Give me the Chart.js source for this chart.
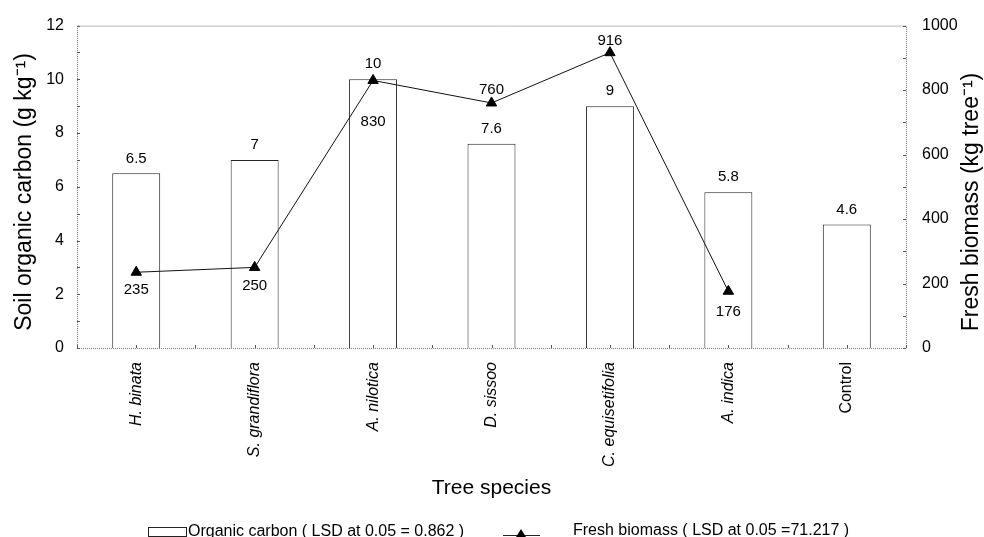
<!DOCTYPE html>
<html>
<head>
<meta charset="utf-8">
<script src="https://cdn.jsdelivr.net/npm/chart.js@4.4.1/dist/chart.umd.min.js"></script>
<style>
  html, body { margin: 0; padding: 0; background: #fff; }
  #wrap { width: 984px; height: 537px; }
</style>
</head>
<body>
<div id="wrap"><canvas id="chart1"></canvas></div>
<script>
const species = ['H. binata', 'S. grandiflora', 'A. nilotica', 'D. sissoo', 'C. equisetifolia', 'A. indica', 'Control'];
const organicCarbon = [6.5, 7, 10, 7.6, 9, 5.8, 4.6];
const freshBiomass = [235, 250, 830, 760, 916, 176, null];
const carbonTicks = [0, 2, 4, 6, 8, 10, 12];
const biomassTicks = [0, 200, 400, 600, 800, 1000];

// where each biomass label sits relative to its point (px, + is below)
const biomassLabelShift = [18, 18, 41, -13, -12, 21, 0];

const FONT = '"Liberation Sans", Arial, sans-serif';
const ctx = document.getElementById('chart1');

function sideTitle(c, text, x, y) {
  c.save();
  c.translate(x, y);
  c.rotate(-Math.PI / 2);
  c.font = '23px ' + FONT;
  c.textAlign = 'center';
  c.textBaseline = 'middle';
  c.fillStyle = '#000';
  c.fillText(text, 0, 0);
  c.restore();
}

const extras = {
  id: 'extras',
  afterDatasetsDraw(chart) {
    const c = chart.ctx;
    const area = chart.chartArea;
    const x = chart.scales.x, y = chart.scales.y, y1 = chart.scales.y1;
    c.save();

    // dotted frame
    c.strokeStyle = '#777';
    c.lineWidth = 1;
    c.setLineDash([1, 1]);
    c.strokeRect(area.left + 0.5, area.top + 0.5, area.right - area.left, area.bottom - area.top);
    c.setLineDash([]);

    // small inward ticks
    c.strokeStyle = '#555';
    c.beginPath();
    for (let v = 0; v <= 12; v++) {
      const py = Math.round(y.getPixelForValue(v)) + 0.5;
      c.moveTo(area.left, py); c.lineTo(area.left + 3, py);
    }
    for (let v = 0; v <= 1000; v += 100) {
      const py = Math.round(y1.getPixelForValue(v)) + 0.5;
      c.moveTo(area.right, py); c.lineTo(area.right - 3, py);
    }
    const step = (area.right - area.left) / species.length;
    for (let i = 0; i <= species.length * 2; i++) {
      const px = Math.round(area.left + i * step / 2) + 0.5;
      c.moveTo(px, area.bottom); c.lineTo(px, area.bottom - 3);
    }
    c.stroke();

    // value labels
    c.fillStyle = '#000';
    c.font = '15px ' + FONT;
    c.textAlign = 'center';
    c.textBaseline = 'middle';
    chart.getDatasetMeta(0).data.forEach((bar, i) => {
      c.fillText(String(organicCarbon[i]), bar.x, bar.y - 15);
    });
    chart.getDatasetMeta(1).data.forEach((pt, i) => {
      if (freshBiomass[i] == null) return;
      c.fillText(String(freshBiomass[i]), pt.x, pt.y + biomassLabelShift[i]);
    });

    // axis titles (both read bottom to top)
    sideTitle(c, 'Soil organic carbon (g kg⁻¹)', 25, 192);
    sideTitle(c, 'Fresh biomass (kg tree⁻¹)', 972, 202);

    // legend
    c.font = '16px ' + FONT;
    c.textAlign = 'left';
    c.textBaseline = 'middle';
    c.strokeStyle = '#222';
    c.strokeRect(148.5, 527.5, 38, 9);
    c.fillText('Organic carbon ( LSD at 0.05 = 0.862 )', 188, 532);
    c.beginPath();
    c.moveTo(503, 535.5); c.lineTo(540, 535.5);
    c.stroke();
    c.beginPath();
    c.moveTo(521, 529); c.lineTo(526, 537); c.lineTo(516, 537); c.closePath();
    c.fill();
    c.fillText('Fresh biomass ( LSD at 0.05 =71.217 )', 573, 531);

    c.restore();
  }
};

new Chart(ctx, {
  type: 'bar',
  data: {
    labels: species,
    datasets: [{
      type: 'bar',
      label: 'Organic carbon ( LSD at 0.05 = 0.862 )',
      data: organicCarbon,
      yAxisID: 'y',
      backgroundColor: '#fff',
      borderColor: '#222',
      borderWidth: 1,
      barPercentage: 0.405,
      categoryPercentage: 1,
      order: 2
    }, {
      type: 'line',
      label: 'Fresh biomass ( LSD at 0.05 =71.217 )',
      data: freshBiomass,
      yAxisID: 'y1',
      borderColor: '#111',
      borderWidth: 1,
      pointStyle: 'triangle',
      pointRadius: 6,
      pointBackgroundColor: '#000',
      pointBorderColor: '#000',
      tension: 0,
      order: 1
    }]
  },
  options: {
    responsive: true,
    maintainAspectRatio: false,
    animation: false,
    layout: { padding: { top: 22, left: 0, right: 0, bottom: 0 } },
    plugins: {
      legend: { display: false },
      tooltip: { enabled: false }
    },
    scales: {
      x: {
        grid: { display: false, drawTicks: false },
        border: { display: false },
        ticks: {
          minRotation: 90,
          maxRotation: 90,
          padding: 14,
          color: '#000',
          font: (c) => ({ family: FONT, size: 16, style: c.index === 6 ? 'normal' : 'italic' })
        },
        title: {
          display: true,
          text: 'Tree species',
          color: '#000',
          font: { family: FONT, size: 21 },
          padding: { top: 0, bottom: 36 }
        },
        afterFit: (s) => { s.height = 189; }
      },
      y: {
        position: 'left',
        min: 0,
        max: 12,
        grid: { display: false, drawTicks: false },
        border: { display: false },
        afterBuildTicks: (s) => { s.ticks = carbonTicks.map(v => ({ value: v })); },
        ticks: { color: '#000', padding: 13, font: { family: FONT, size: 16 }, callback: (v) => String(v) },
        afterFit: (s) => { s.width = 77; }
      },
      y1: {
        position: 'right',
        min: 0,
        max: 1000,
        grid: { display: false, drawTicks: false },
        border: { display: false },
        afterBuildTicks: (s) => { s.ticks = biomassTicks.map(v => ({ value: v })); },
        ticks: { color: '#000', padding: 16, font: { family: FONT, size: 16 }, callback: (v) => String(v) },
        afterFit: (s) => { s.width = 78; }
      }
    }
  },
  plugins: [extras]
});
</script>
</body>
</html>
